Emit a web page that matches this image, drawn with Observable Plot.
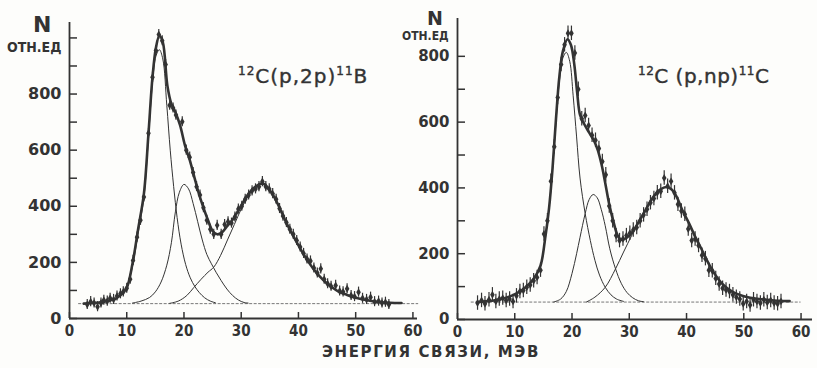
<!DOCTYPE html>
<html><head><meta charset="utf-8">
<script src="https://cdn.jsdelivr.net/npm/d3@7"></script>
<script src="https://cdn.jsdelivr.net/npm/@observablehq/plot@0.6"></script>
<style>
body{margin:0;background:#fdfdfb;}
#wrap{position:relative;width:817px;height:368px;overflow:hidden;background:#fdfdfb;color:#333;font-family:"DejaVu Sans",sans-serif;}
.abs{position:absolute;white-space:nowrap;line-height:1;}
.plot{position:absolute;left:0;top:0;}
.sup{font-size:12px;position:relative;top:-8px;}
</style></head><body>
<div id="wrap">
  <div id="pl" class="plot"></div>
  <div id="pr" class="plot"></div>
  <div class="abs" style="left:33px;top:14px;font-size:22px;font-weight:bold">N</div>
  <div class="abs" style="left:7px;top:40px;font-size:14px;font-weight:bold;font-family:'DejaVu Sans Condensed','DejaVu Sans';">ОТН.ЕД</div>
  <div class="abs" style="left:427px;top:9px;font-size:19px;font-weight:bold">N</div>
  <div class="abs" style="left:402px;top:30px;font-size:12px;font-weight:bold;font-family:'DejaVu Sans Condensed','DejaVu Sans';">ОТН.ЕД</div>
  <div class="abs" style="left:238px;top:66px;font-size:20px;letter-spacing:1px;-webkit-text-stroke:0.4px #333"><span class="sup">12</span>C(p,2p)<span class="sup">11</span>B</div>
  <div class="abs" style="left:638px;top:66px;font-size:20px;letter-spacing:0.5px;-webkit-text-stroke:0.4px #333"><span class="sup">12</span>C (p,np)<span class="sup">11</span>C</div>
  <div class="abs" style="left:322px;top:345px;font-size:15px;font-weight:bold;letter-spacing:1.6px">ЭНЕРГИЯ СВЯЗИ, МЭВ</div>
</div>
<script>
// ---------- tick values ----------
const xTicks = [0, 10, 20, 30, 40, 50, 60];
const yTicksLeft = [0, 100, 200, 300, 400, 500, 600, 700, 800, 900, 1000];
const yLabelsLeft = [0, 200, 400, 600, 800];
const yTicksRight = [0, 100, 200, 300, 400, 500, 600, 700, 800];
const yLabelsRight = [0, 200, 400, 600, 800];

// ---------- left panel: 12C(p,2p)11B ----------
const baselineLeft = 53;
const baselineSpanLeft = [1.6, 61];
const errLeft = 18;
const leftTotal = [[2.5,53],[4,55],[6,60],[8,70],[9,85],[10,110],[11,195],[12,320],[13,445],[13.8,660],[14.5,860],[15.1,965],[15.7,1008],[16.3,985],[17.1,830],[17.8,765],[18.5,735],[19.3,690],[20.2,615],[21,565],[21.8,505],[22.6,445],[23.4,395],[24.2,350],[25,312],[25.8,300],[26.6,306],[27.5,328],[28.5,352],[29.5,385],[30.5,420],[31.5,450],[32.5,470],[33.7,482],[34.8,462],[35.8,432],[36.8,390],[37.8,345],[38.8,305],[39.8,268],[40.8,232],[41.8,200],[42.8,172],[43.8,148],[44.8,128],[45.8,112],[47,96],[48.5,84],[50,74],[52,65],[54,59],[56,56],[58,55]];
const leftComp1 = [[10,105],[11,185],[12,305],[13,432],[13.8,645],[14.5,840],[15.1,935],[15.7,958],[16.3,925],[17,760],[17.6,600],[18.2,470],[18.8,360],[19.5,265],[20.3,192],[21.1,145],[21.9,114],[22.7,92],[23.6,74],[24.6,62],[25.5,56]];
const leftComp2 = [[11,55],[12.5,62],[14,75],[15,95],[16,130],[17,190],[17.8,270],[18.5,380],[19.2,450],[20,478],[20.8,462],[21.6,410],[22.4,345],[23.2,280],[24,228],[24.8,195],[25.6,165],[26.5,135],[27.5,105],[28.5,82],[29.5,66],[30.5,57],[31.2,55]];
const leftComp3 = [[17.5,54],[19,62],[20.5,82],[21.7,110],[23,140],[24.2,165],[25.2,183],[26.4,225],[27.6,280],[28.8,335],[30,390],[31.2,435],[32.4,465],[33.7,478],[34.8,462],[35.8,432],[36.8,390],[37.8,345],[38.8,305],[39.8,268],[40.8,232],[41.8,200],[42.8,172],[43.8,148],[44.8,128],[45.8,112],[47,96],[48.5,84],[50,74],[52,65],[54,59],[56,56],[58,55]];
const leftPoints = [[3.1,50],[3.7,60],[4.3,55],[4.9,42],[5.5,55],[6.0,65],[6.6,62],[7.1,72],[7.7,68],[8.3,80],[8.9,88],[9.4,95],[10.0,108],[10.6,140],[11.1,207],[11.8,290],[12.4,350],[13.0,433],[13.8,660],[14.5,860],[15.1,955],[15.6,1012],[16.2,990],[16.8,905],[17.5,760],[18.1,750],[18.6,725],[19.7,701],[20.4,600],[21.0,575],[21.6,520],[22.2,470],[22.8,440],[23.4,395],[24.0,350],[24.6,318],[25.2,300],[25.8,332],[26.5,300],[27.1,335],[27.7,345],[28.3,340],[28.9,362],[29.5,390],[30.1,400],[30.7,425],[31.3,440],[31.9,455],[32.5,462],[33.1,470],[33.7,488],[34.3,470],[34.9,462],[35.5,445],[36.1,425],[36.7,392],[37.3,365],[37.9,342],[38.5,318],[39.1,300],[39.7,278],[40.3,255],[40.9,232],[41.5,212],[42.1,205],[42.7,180],[43.3,162],[43.9,177],[44.5,140],[45.1,124],[45.7,115],[46.5,118],[47.2,98],[47.8,95],[48.5,106],[49.2,82],[49.8,78],[50.5,94],[51.2,72],[51.9,68],[52.6,76],[53.3,60],[54.0,62],[54.6,55],[55.2,58],[55.8,50]];

// ---------- right panel: 12C(p,np)11C ----------
const baselineRight = 53;
const baselineSpanRight = [2.4, 60];
const errRight = 22;
const rightTotal = [[3.5,53],[5,55],[7,60],[8.5,66],[10.4,80],[12,100],[13.3,124],[14.5,164],[15.3,245],[16,340],[16.6,460],[17.2,610],[17.8,740],[18.4,815],[19.2,852],[19.8,835],[20.4,775],[20.9,690],[21.4,622],[22.1,595],[23,568],[23.8,545],[24.5,515],[25.2,468],[25.8,415],[26.5,350],[27.2,300],[27.9,258],[28.5,243],[29.2,245],[30,255],[30.8,272],[31.7,298],[32.5,322],[33.4,350],[34.3,375],[35.4,395],[36.5,403],[37.4,395],[38.3,372],[39.2,335],[40.5,290],[41.5,252],[42.5,218],[43.5,182],[44.5,150],[45.5,124],[46.5,104],[47.5,90],[48.5,80],[50,71],[52,64],[54,60],[56,57],[58,56]];
const rightComp1 = [[12,98],[13.3,122],[14.5,162],[15.3,243],[16,338],[16.6,455],[17.2,600],[17.8,725],[18.4,795],[19,812],[19.6,785],[20.2,680],[20.8,555],[21.4,430],[22.3,322],[23.2,240],[24,180],[24.8,135],[25.8,98],[26.8,75],[27.8,62],[29,55]];
const rightComp2 = [[16.8,53],[18,62],[19,85],[20,140],[20.8,200],[21.4,250],[22.3,322],[23,365],[23.7,380],[24.4,370],[25.1,335],[25.8,285],[26.6,215],[27.6,154],[28.6,110],[29.6,82],[30.6,66],[31.6,57],[32.5,54]];
const rightComp3 = [[22.5,53],[24,68],[25.8,98],[27.6,154],[29,205],[30.5,258],[31.7,298],[32.5,322],[33.4,350],[34.3,375],[35.4,395],[36.5,403],[37.4,395],[38.3,372],[39.2,335],[40.5,290],[41.5,252],[42.5,218],[43.5,182],[44.5,150],[45.5,124],[46.5,104],[47.5,90],[48.5,80],[50,71],[52,64],[54,60],[56,57],[58,56]];
const rightPoints = [[3.5,50],[4.2,58],[4.8,48],[5.5,60],[6.1,75],[6.7,55],[7.3,62],[7.9,65],[8.5,58],[9.1,62],[9.7,55],[10.3,72],[10.9,85],[11.5,88],[12.1,98],[12.7,105],[13.3,118],[13.9,128],[14.5,150],[15.1,260],[15.7,300],[16.3,420],[16.9,525],[17.5,675],[18.1,775],[18.7,835],[19.3,870],[19.9,870],[20.5,810],[21.1,700],[21.7,610],[22.3,620],[22.9,590],[23.5,560],[24.1,545],[24.7,520],[25.3,480],[25.9,440],[26.5,345],[27.1,300],[27.7,255],[28.3,240],[28.9,245],[29.5,255],[30.1,262],[30.7,272],[31.3,280],[31.9,300],[32.5,318],[33.1,335],[33.7,355],[34.3,368],[34.9,385],[35.5,390],[36.1,430],[36.7,405],[37.3,420],[37.9,385],[38.5,350],[39.1,330],[39.7,320],[40.3,275],[40.9,240],[41.5,245],[42.1,225],[42.7,195],[43.3,185],[43.9,150],[44.5,148],[45.1,125],[45.7,108],[46.3,95],[46.9,90],[47.5,85],[48.1,75],[48.7,68],[49.3,62],[49.9,48],[50.5,55],[51.1,44],[51.7,60],[52.3,55],[52.9,50],[53.5,60],[54.1,52],[54.7,58],[55.3,50],[55.9,48],[56.5,55]];

const INK = "#333";
const X = d => d[0], Y = d => d[1];

function panel(o) {
  return Plot.plot({
    width: 817, height: 340,
    marginLeft: o.ml, marginRight: o.mr, marginTop: o.mt, marginBottom: o.mb,
    x: {domain: o.xd},
    y: {domain: o.yd},
    style: {background: "transparent", overflow: "visible", color: INK, fontFamily: "'DejaVu Sans', sans-serif"},
    marks: [
      Plot.ruleY([0], {stroke: INK, strokeWidth: 1.8}),
      Plot.ruleX([0], {stroke: INK, strokeWidth: 1.8}),
      Plot.axisY(o.yTicks, {tickSize: -8, tickFormat: () => "", stroke: INK, strokeWidth: 1.5}),
      Plot.axisY(o.yLabels, {tickSize: 0, tickPadding: 8, fontSize: o.yfs, fontWeight: "bold", fill: INK, style: "letter-spacing:1.5px"}),
      Plot.axisX(xTicks, {tickSize: -6, tickPadding: 13, fontSize: 15, fontWeight: "bold", fontFamily: "'DejaVu Sans Condensed', 'DejaVu Sans'", fill: INK, stroke: INK, strokeWidth: 1.5}),
      Plot.ruleY([o.base], {x1: o.baseSpan[0], x2: o.baseSpan[1], stroke: "#777", strokeWidth: 1, strokeDasharray: "3,1.5"}),
      Plot.line(o.c1, {x: X, y: Y, curve: "catmull-rom", stroke: INK, strokeWidth: 1}),
      Plot.line(o.c2, {x: X, y: Y, curve: "catmull-rom", stroke: INK, strokeWidth: 1}),
      Plot.line(o.c3, {x: X, y: Y, curve: "catmull-rom", stroke: INK, strokeWidth: 1}),
      Plot.ruleX(o.pts, {x: X, y1: d => d[1] - o.err, y2: d => d[1] + o.err, stroke: INK, strokeWidth: 1.2}),
      Plot.dot(o.pts, {x: X, y: Y, symbol: "diamond", r: 2.4, fill: INK, stroke: "none"}),
      Plot.line(o.total, {x: X, y: Y, curve: "catmull-rom", stroke: INK, strokeWidth: 2.6})
    ]
  });
}

document.getElementById("pl").append(panel({
  ml: 69, mr: 400, mt: 22, mb: 22, xd: [0, 60.8], yd: [0, 1055], yfs: 16,
  yTicks: yTicksLeft, yLabels: yLabelsLeft, base: baselineLeft, baseSpan: baselineSpanLeft,
  c1: leftComp1, c2: leftComp2, c3: leftComp3, pts: leftPoints, err: errLeft, total: leftTotal
}));
document.getElementById("pr").append(panel({
  ml: 457, mr: 5, mt: 18, mb: 21, xd: [0, 62], yd: [0, 915], yfs: 15,
  yTicks: yTicksRight, yLabels: yLabelsRight, base: baselineRight, baseSpan: baselineSpanRight,
  c1: rightComp1, c2: rightComp2, c3: rightComp3, pts: rightPoints, err: errRight, total: rightTotal
}));
</script>
</body></html>
